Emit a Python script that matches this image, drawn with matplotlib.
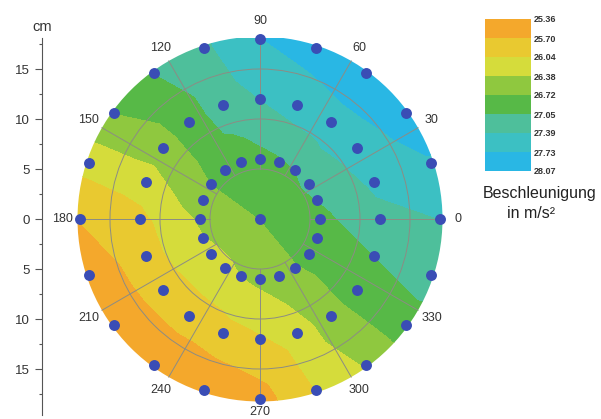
import numpy as np
import matplotlib.pyplot as plt
import matplotlib.tri as mtri
from matplotlib.patches import Circle
from matplotlib.ticker import MultipleLocator

plt.rcParams['font.family'] = ['Liberation Sans', 'DejaVu Sans']

# measuring points: centre + three rings of 20 points (angles in degrees, radii in cm)
angles = [0, 18, 36, 54, 72, 90, 108, 126, 144, 162,
          180, 198, 216, 234, 252, 270, 288, 306, 324, 342]
ring_radii = [6, 12, 18]
center_value = 26.72
inner_values = [26.95, 27.05, 27.10, 27.05, 27.00, 26.95, 26.90, 26.85, 26.72, 26.58,
                26.42, 26.36, 26.30, 26.30, 26.38, 26.45, 26.55, 26.70, 26.80, 26.90]
middle_values = [27.30, 27.45, 27.55, 27.60, 27.55, 27.39, 27.20, 26.90, 26.55, 26.20,
                 25.95, 25.90, 25.85, 25.85, 25.90, 26.00, 26.20, 26.55, 26.90, 27.05]
outer_values = [27.39, 27.70, 27.90, 27.95, 27.85, 27.72, 27.33, 27.05, 26.72, 26.15,
                25.72, 25.45, 25.42, 25.40, 25.42, 25.55, 26.04, 26.40, 26.90, 27.20]

levels = [25.36, 25.70, 26.04, 26.38, 26.72, 27.05, 27.39, 27.73, 28.07]
band_colors = ['#F4A82C', '#E9C930', '#D5DC3B', '#8FC83F',
               '#57B947', '#4EBF9B', '#3CC0C3', '#29B7E4']
angle_ticks = [0, 30, 60, 90, 120, 150, 180, 210, 240, 270, 300, 330]
cm_ticks = [-15, -10, -5, 0, 5, 10, 15]
grid_radii = [5, 10, 15]

disk_r = 18.25
th = np.radians(angles)
xs, ys, vals = [0.0], [0.0], [center_value]
for r, ring in zip(ring_radii, [inner_values, middle_values, outer_values]):
    xs += list(r * np.cos(th))
    ys += list(r * np.sin(th))
    vals += ring
# carry the outer ring values out to the rim so the fill reaches the circle edge
fx = xs + list(18.7 * np.cos(th))
fy = ys + list(18.7 * np.sin(th))
fv = vals + outer_values

fig = plt.figure(figsize=(6.01, 4.19), dpi=100)
ax = fig.add_axes([42 / 601, 4 / 419, 428 / 601, 377 / 419])
ax.set_xlim(-21.8, 21.0)
ax.set_ylim(-19.6, 18.1)

tri = mtri.Triangulation(fx, fy)
cs = ax.tricontourf(tri, fv, levels=levels, colors=band_colors)
cs.set_clip_path(Circle((0, 0), disk_r, transform=ax.transData))

gridc = '#8c8c84'
for r in grid_radii:
    ax.add_patch(Circle((0, 0), r, fill=False, ec=gridc, lw=0.7, zorder=3))
for a in angle_ticks:
    t = np.radians(a)
    ax.plot([5 * np.cos(t), disk_r * np.cos(t)], [5 * np.sin(t), disk_r * np.sin(t)],
            color=gridc, lw=0.7, zorder=3)
    rl = 19.3 if a == 270 else 19.8
    ax.text(rl * np.cos(t), rl * np.sin(t), str(a), ha='center', va='center',
            fontsize=9, color='#333333')

ax.scatter(xs, ys, s=62, color='#3A4DB5', zorder=5, clip_on=False, linewidths=0)

for s in ['top', 'right', 'bottom']:
    ax.spines[s].set_visible(False)
ax.spines['left'].set_color('#555555')
ax.set_xticks([])
ax.set_yticks(cm_ticks)
ax.set_yticklabels([str(abs(t)) for t in cm_ticks])
ax.yaxis.set_minor_locator(MultipleLocator(2.5))
ax.tick_params(axis='y', which='major', length=5, width=0.8, color='#555555',
               labelsize=9.5, labelcolor='#333333', pad=4)
ax.tick_params(axis='y', which='minor', length=2.5, width=0.8, color='#555555')
fig.text(42 / 601, 1 - 27 / 419, 'cm', ha='center', va='center', fontsize=10.5,
         color='#333333')

cax = fig.add_axes([485 / 601, 1 - 171 / 419, 46 / 601, 152 / 419])
cb = fig.colorbar(cs, cax=cax)
cb.outline.set_visible(False)
cb.set_ticks(levels)
cb.set_ticklabels([f'{v:.2f}' for v in levels])
cax.invert_yaxis()
cax.tick_params(length=0, labelsize=6.5, pad=2, labelcolor='#333333')
for lab in cax.get_yticklabels():
    lab.set_fontweight('bold')

fig.text(540 / 601, 1 - 193 / 419, 'Beschleunigung', ha='center', va='center',
         fontsize=11.5, color='#222222')
fig.text(531 / 601, 1 - 214 / 419, 'in m/s²', ha='center', va='center',
         fontsize=11.5, color='#222222')

fig.savefig('out.png', dpi=100)
